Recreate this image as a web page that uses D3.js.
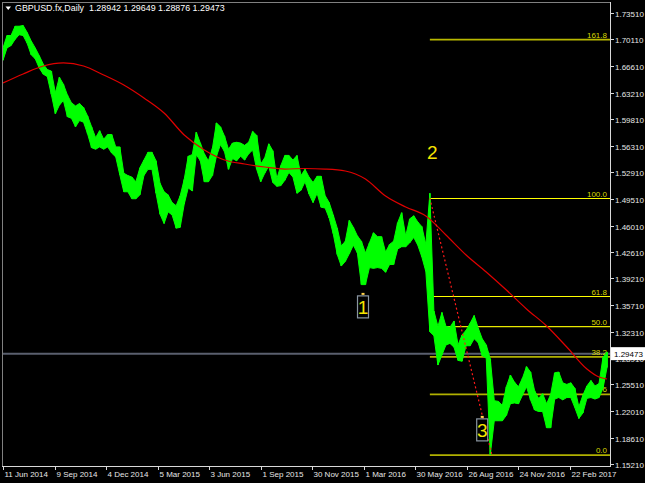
<!DOCTYPE html>
<html><head><meta charset="utf-8">
<script src="https://cdn.jsdelivr.net/npm/d3@7"></script>
<style>
html,body{margin:0;padding:0;background:#000;overflow:hidden;}
svg{display:block;}
text{font-family:"Liberation Sans",Arial,sans-serif;}
</style></head><body>
<svg id="c" width="645" height="483"></svg>
<script>
// ---------- data ----------
const symbolTitle = "GBPUSD.fx,Daily";
const lastOHLC = [1.28942, 1.29649, 1.28876, 1.29473];
const lastClose = 1.29473;

// weekly high / low (week k = bars 5k-2 .. 5k+2)
const weekHigh = [
 1.690,1.706,1.706,1.718,1.718,1.719,1.710,1.699,1.690,1.680,
 1.669,1.662,1.660,1.632,1.652,1.643,1.629,1.619,1.615,1.618,
 1.613,1.602,1.588,1.574,1.583,1.572,1.578,1.578,1.562,1.562,
 1.528,1.525,1.523,1.517,1.535,1.545,1.555,1.555,1.544,1.515,
 1.504,1.500,1.490,1.486,1.499,1.520,1.550,1.552,1.581,1.567,
 1.553,1.544,1.560,1.593,1.588,1.576,1.559,1.567,1.568,1.567,
 1.564,1.568,1.582,1.577,1.540,1.548,1.566,1.557,1.521,1.538,
 1.551,1.551,1.545,1.551,1.525,1.533,1.523,1.516,1.524,1.524,
 1.499,1.490,1.474,1.457,1.434,1.440,1.467,1.458,1.447,1.440,
 1.425,1.438,1.451,1.446,1.446,1.426,1.436,1.440,1.464,1.477,
 1.447,1.469,1.473,1.465,1.459,1.436,1.502,1.350,1.330,1.348,
 1.330,1.329,1.337,1.306,1.319,1.325,1.334,1.344,1.328,1.314,
 1.306,1.288,1.234,1.233,1.228,1.252,1.267,1.258,1.252,1.263,
 1.278,1.271,1.247,1.237,1.243,1.230,1.242,1.270,1.271,1.257,
 1.255,1.257,1.250,1.226,1.241,1.253,1.260,1.253,1.256,1.290,
 1.297
];
const weekLow = [
 1.674,1.690,1.693,1.701,1.707,1.706,1.696,1.681,1.676,1.664,
 1.656,1.653,1.630,1.605,1.616,1.622,1.601,1.599,1.588,1.596,
 1.594,1.579,1.561,1.559,1.562,1.559,1.562,1.554,1.549,1.526,
 1.504,1.504,1.495,1.495,1.500,1.525,1.533,1.533,1.502,1.475,
 1.463,1.478,1.474,1.457,1.458,1.488,1.509,1.505,1.552,1.544,
 1.517,1.517,1.525,1.550,1.565,1.556,1.533,1.547,1.544,1.550,
 1.545,1.553,1.558,1.533,1.517,1.528,1.537,1.516,1.511,1.512,
 1.519,1.529,1.523,1.502,1.506,1.517,1.501,1.490,1.502,1.484,
 1.483,1.470,1.450,1.423,1.408,1.414,1.424,1.435,1.425,1.384,
 1.384,1.406,1.405,1.406,1.405,1.400,1.410,1.410,1.430,1.433,
 1.433,1.438,1.445,1.435,1.420,1.401,1.323,1.318,1.280,1.293,
 1.306,1.308,1.303,1.286,1.285,1.305,1.305,1.314,1.309,1.292,
 1.289,1.164,1.208,1.208,1.208,1.215,1.230,1.231,1.230,1.241,
 1.252,1.235,1.222,1.220,1.220,1.199,1.199,1.236,1.238,1.235,
 1.238,1.238,1.225,1.211,1.218,1.237,1.238,1.236,1.238,1.250,
 1.277
];

// moving average (red line), sampled by week index
const maWeek  = [0,5,10,15,20,25,30,35,40,45,50,55,60,65,70,75,80,85,90,95,100,105,110,115,120,125,130,135,140,145,148,150];
const maValue = [1.6446,1.6563,1.6666,1.6705,1.6666,1.6550,1.6420,1.6252,1.6058,1.5774,1.5580,1.5451,1.5399,1.5360,1.5334,1.5341,1.5334,1.5309,1.5205,1.4985,1.4843,1.4727,1.4481,1.4223,1.4003,1.3770,1.3525,1.3305,1.3033,1.2749,1.2646,1.2620];

// axes
const yTicks = [1.73510,1.70110,1.66610,1.63210,1.59810,1.56310,1.52910,1.49510,1.46010,1.42610,1.39210,1.35710,1.32310,1.28910,1.25510,1.22010,1.18610,1.15210];
const xTickLabels = ["11 Jun 2014","9 Sep 2014","4 Dec 2014","5 Mar 2015","3 Jun 2015","1 Sep 2015","30 Nov 2015","1 Mar 2016","30 May 2016","26 Aug 2016","24 Nov 2016","22 Feb 2017"];
const barsPerXTick = 64;
const barsPerWeek = 5;

// Fibonacci retracement
const fibLevels = [0, 23.6, 38.2, 50.0, 61.8, 100.0, 161.8];
const fibLow = 1.1637, fibHigh = 1.4956;
const fibHighBar = 530, fibLowBar = 607;

// wave labels
const waveText  = ["1", "2", "3"];
const waveBar   = [447, 533, 595];
const wavePrice = [1.372, 1.556, 1.213];
const waveBoxed = [true, false, true];

// ---------- drawing ----------
const svg = d3.select("#c");
const P = {l:2, t:2, r:610, b:466};
const x = d3.scaleLinear().domain([0, barsPerXTick*11]).range([3, 570]);
const y = d3.scaleLinear().domain([1.15210, 1.73510]).range([464, 13]);
const snap = v => Math.round(v) + 0.5;

svg.append("rect").attr("width",645).attr("height",483).attr("fill","#000");
svg.append("defs").append("clipPath").attr("id","clip")
  .append("rect").attr("x",P.l+1).attr("y",P.t+1).attr("width",P.r-P.l-1).attr("height",P.b-P.t-1);
const g = svg.append("g").attr("clip-path","url(#clip)");

// current price line
g.append("line").attr("x1",P.l).attr("x2",P.r)
  .attr("y1",y(lastClose)).attr("y2",y(lastClose))
  .attr("stroke","#5a5f6e").attr("stroke-width",2);

// fib levels (drawn behind price)
const fibStroke = {0:"#b0b000",23.6:"#b0b000",38.2:"#b0b000",50:"#e8e800",61.8:"#ffff00",100:"#ffff00",161.8:"#b8b800"};
const fibWidth  = {0:1.7,23.6:1.7,38.2:1.7,50:1.2,61.8:1,100:1,161.8:1.6};
const fibG = g.append("g");
fibLevels.forEach(lv => {
  const price = fibLow + lv/100*(fibHigh-fibLow);
  const yy = fibWidth[lv] === 1 ? snap(y(price)) : y(price);
  fibG.append("line").attr("x1",x(fibHighBar)).attr("x2",P.r)
    .attr("y1",yy).attr("y2",yy)
    .attr("stroke",fibStroke[lv]).attr("stroke-width",fibWidth[lv]);
  fibG.append("text").attr("x",607).attr("y",yy-2)
    .attr("text-anchor","end").attr("font-size","8px")
    .attr("fill","#d8d800").text(lv.toFixed(1));
});

// price: weekly ranges as a band plus a range stroke per week
const weeks = weekHigh.map((h,i)=>({k:i,h:h,l:weekLow[i]}));
const pg = g.append("g");
pg.append("path").datum(weeks)
  .attr("d", d3.area().x(d=>x(d.k*barsPerWeek)).y0(d=>y(d.l)).y1(d=>y(d.h)))
  .attr("fill","#00ff00").attr("stroke","#00ff00").attr("stroke-width",1);
pg.selectAll("line").data(weeks).join("line")
  .attr("x1", d => x(d.k*barsPerWeek)).attr("x2", d => x(d.k*barsPerWeek))
  .attr("y1", d => y(d.h)).attr("y2", d => y(d.l))
  .attr("stroke", "#00ff00").attr("stroke-width", 1.6);

// moving average
g.append("path")
  .datum(maWeek.map((w,i)=>[w, maValue[i]]))
  .attr("d", d3.line().x(d=>x(d[0]*barsPerWeek)).y(d=>y(d[1])).curve(d3.curveMonotoneX))
  .attr("fill","none").attr("stroke","#e00000").attr("stroke-width",1.2);

// fib trend line (dotted)
g.append("line")
  .attr("x1",x(fibHighBar)).attr("y1",y(fibHigh))
  .attr("x2",x(fibLowBar)).attr("y2",y(fibLow))
  .attr("stroke","#ff1a1a").attr("stroke-width",1.2).attr("stroke-dasharray","2,2.5");

// wave labels
waveText.forEach((t,i) => {
  const cx = x(waveBar[i]), cy = y(wavePrice[i]);
  if (waveBoxed[i]) {
    g.append("rect").attr("x",cx-5.5).attr("y",cy+2).attr("width",11).attr("height",22)
      .attr("fill","#000").attr("stroke","#8a96a2").attr("stroke-width",1.2);
    g.append("rect").attr("x",cx-1.5).attr("y",cy-1).attr("width",3).attr("height",2).attr("fill","#ffd24a");
    g.append("text").attr("x",cx).attr("y",cy+20).attr("text-anchor","middle")
      .attr("font-size","19px").attr("fill","#f5e400").text(t);
  } else {
    g.append("text").attr("x",cx).attr("y",cy+7).attr("text-anchor","middle")
      .attr("font-size","19px").attr("fill","#f5e400").text(t);
  }
});

// frame
svg.append("line").attr("x1",P.l+0.5).attr("x2",P.l+0.5).attr("y1",P.t).attr("y2",P.b).attr("stroke","#808080");
svg.append("line").attr("x1",P.l).attr("x2",P.r).attr("y1",P.t+0.5).attr("y2",P.t+0.5).attr("stroke","#808080");
svg.append("line").attr("x1",P.r+0.5).attr("x2",P.r+0.5).attr("y1",P.t).attr("y2",P.b+1).attr("stroke","#d8d8d8");
svg.append("line").attr("x1",P.l).attr("x2",P.r+1).attr("y1",P.b+0.5).attr("y2",P.b+0.5).attr("stroke","#d8d8d8");

// right axis
const ya = svg.append("g");
yTicks.forEach(v => {
  const yy = snap(y(v));
  ya.append("line").attr("x1",P.r+1).attr("x2",P.r+4).attr("y1",yy).attr("y2",yy).attr("stroke","#d8d8d8");
  ya.append("text").attr("x",615).attr("y",yy+3).attr("font-size","8px").attr("fill","#e6e6e6").text(v.toFixed(5));
});

// bottom axis
const xa = svg.append("g");
xTickLabels.forEach((lab,i) => {
  const xx = snap(x(i*barsPerXTick));
  xa.append("line").attr("x1",xx).attr("x2",xx).attr("y1",P.b+1).attr("y2",P.b+4).attr("stroke","#d8d8d8");
  xa.append("text").attr("x",xx+1).attr("y",477).attr("font-size","8px").attr("fill","#e6e6e6").text(lab);
});

// last price box
const ly = y(lastClose);
svg.append("rect").attr("x",611).attr("y",ly-6.5).attr("width",34).attr("height",13).attr("fill","#ffffff");
svg.append("text").attr("x",614).attr("y",ly+3).attr("font-size","8px").attr("fill","#000").text(lastClose.toFixed(5));

// header
svg.append("path").attr("d","M5.5,6.5 L11,6.5 L8.25,10 Z").attr("fill","#ffffff");
svg.append("text").attr("x",15).attr("y",11).attr("font-size","8.9px").attr("fill","#ffffff")
  .attr("xml:space","preserve")
  .text(symbolTitle + "  " + lastOHLC.map(v=>v.toFixed(5)).join(" "));
</script>
</body></html>
